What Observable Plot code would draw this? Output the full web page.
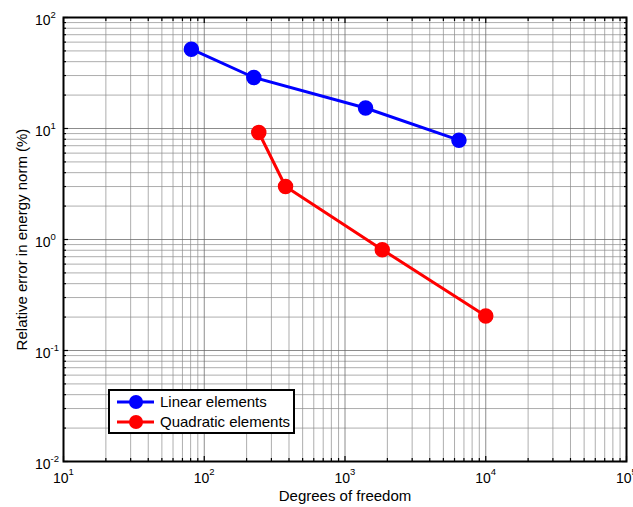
<!DOCTYPE html>
<html>
<head>
<meta charset="utf-8">
<script src="https://cdn.jsdelivr.net/npm/d3@7"></script>
<script src="https://cdn.jsdelivr.net/npm/@observablehq/plot@0.6"></script>
<style>
  html, body { margin: 0; padding: 0; background: #fff; }
  #wrap { position: relative; width: 633px; height: 507px; font-family: "Liberation Sans", Arial, sans-serif; }
  #legend { position: absolute; left: 108px; top: 389px; }
</style>
</head>
<body>
<div id="wrap"></div>
<script>
// ---- data ----
const linearDof = [81, 225, 1400, 6450];
const linearErr = [51.8, 28.8, 15.3, 7.85];
const quadDof = [244, 378, 1840, 10000];
const quadErr = [9.2, 3.0, 0.81, 0.205];

const seriesNames = ["Linear elements", "Quadratic elements"];
const seriesColors = ["#0000ff", "#ff0000"];

// tick values
const xMajor = [10, 100, 1000, 10000, 100000];
const xMajorExp = ["1", "2", "3", "4", "5"];
const yMajor = [0.01, 0.1, 1, 10, 100];
const yMajorExp = ["-2", "-1", "0", "1", "2"];
const mantissas = [2, 3, 4, 5, 6, 7, 8, 9];
const xMinor = xMajor.slice(0, -1).flatMap(d => mantissas.map(m => m * d));
const yMinor = yMajor.slice(0, -1).flatMap(d => mantissas.map(m => m * d));

const linear = linearDof.map((d, i) => ({dof: d, err: linearErr[i], s: seriesNames[0]}));
const quad = quadDof.map((d, i) => ({dof: d, err: quadErr[i], s: seriesNames[1]}));

const xMaj = xMajor.map((v, i) => ({v, e: xMajorExp[i]}));
const yMaj = yMajor.map((v, i) => ({v, e: yMajorExp[i]}));

const minorGrid = {stroke: "#8c8c8c", strokeOpacity: 0.7, strokeWidth: 1};
const majorGrid = {stroke: "#666", strokeOpacity: 0.75, strokeWidth: 1};
const font = "Liberation Sans, Arial, sans-serif";

const chart = Plot.plot({
  width: 633,
  height: 507,
  marginLeft: 63,
  marginRight: 7,
  marginTop: 17,
  marginBottom: 46,
  style: {fontFamily: font, background: "#fff", color: "#000"},
  x: {type: "log", domain: [10, 100000]},
  y: {type: "log", domain: [0.01, 100]},
  marks: [
    Plot.gridX(xMinor, minorGrid),
    Plot.gridY(yMinor, minorGrid),
    Plot.gridX(xMajor, majorGrid),
    Plot.gridY(yMajor, majorGrid),
    // inward ticks on all four sides
    Plot.axisX(xMajor, {anchor: "bottom", tickSize: -5, tickFormat: () => "", strokeWidth: 1.2}),
    Plot.axisX(xMinor, {anchor: "bottom", tickSize: -3, tickFormat: () => "", strokeWidth: 1.2}),
    Plot.axisX(xMajor, {anchor: "top", tickSize: -5, tickFormat: () => "", strokeWidth: 1.2}),
    Plot.axisX(xMinor, {anchor: "top", tickSize: -3, tickFormat: () => "", strokeWidth: 1.2}),
    Plot.axisY(yMajor, {anchor: "left", tickSize: -5, tickFormat: () => "", strokeWidth: 1.2}),
    Plot.axisY(yMinor, {anchor: "left", tickSize: -3, tickFormat: () => "", strokeWidth: 1.2}),
    Plot.axisY(yMajor, {anchor: "right", tickSize: -5, tickFormat: () => "", strokeWidth: 1.2}),
    Plot.axisY(yMinor, {anchor: "right", tickSize: -3, tickFormat: () => "", strokeWidth: 1.2}),
    Plot.frame({stroke: "#000", strokeWidth: 2}),
    // tick labels 10^n
    Plot.text(xMaj, {x: "v", frameAnchor: "bottom", text: () => "10", textAnchor: "end", lineAnchor: "bottom", dx: 5, dy: 21, fontSize: 14, fill: "#000"}),
    Plot.text(xMaj, {x: "v", frameAnchor: "bottom", text: "e", textAnchor: "start", lineAnchor: "bottom", dx: 5, dy: 13, fontSize: 9.5, fill: "#000"}),
    Plot.text(yMaj, {y: "v", frameAnchor: "left", text: () => "10", textAnchor: "end", lineAnchor: "bottom", dx: -13, dy: 7, fontSize: 14, fill: "#000"}),
    Plot.text(yMaj, {y: "v", frameAnchor: "left", text: "e", textAnchor: "start", lineAnchor: "bottom", dx: -13, dy: 0, fontSize: 9.5, fill: "#000"}),
    // axis titles
    Plot.text(["Degrees of freedom"], {frameAnchor: "bottom", text: d => d, textAnchor: "middle", lineAnchor: "bottom", dy: 39, fontSize: 15, fill: "#000"}),
    Plot.text(["Relative error in energy norm (%)"], {frameAnchor: "left", text: d => d, textAnchor: "middle", rotate: -90, lineAnchor: "bottom", dx: -37, fontSize: 15, fill: "#000"}),
    // data
    Plot.line(linear, {x: "dof", y: "err", stroke: seriesColors[0], strokeWidth: 3}),
    Plot.dot(linear, {x: "dof", y: "err", r: 7, fill: seriesColors[0], stroke: seriesColors[0]}),
    Plot.line(quad, {x: "dof", y: "err", stroke: seriesColors[1], strokeWidth: 3}),
    Plot.dot(quad, {x: "dof", y: "err", r: 7, fill: seriesColors[1], stroke: seriesColors[1]})
  ]
});

const wrap = document.getElementById("wrap");
wrap.appendChild(chart);

// legend box (inside the axes, lower left)
const ns = "http://www.w3.org/2000/svg";
const lg = document.createElementNS(ns, "svg");
lg.setAttribute("id", "legend");
lg.setAttribute("width", 188);
lg.setAttribute("height", 46);
const rect = document.createElementNS(ns, "rect");
rect.setAttribute("x", 1); rect.setAttribute("y", 1);
rect.setAttribute("width", 185); rect.setAttribute("height", 43);
rect.setAttribute("fill", "#fff"); rect.setAttribute("stroke", "#000"); rect.setAttribute("stroke-width", 2);
lg.appendChild(rect);
seriesNames.forEach((name, i) => {
  const cy = 13 + i * 20;
  const ln = document.createElementNS(ns, "line");
  ln.setAttribute("x1", 9); ln.setAttribute("x2", 46);
  ln.setAttribute("y1", cy); ln.setAttribute("y2", cy);
  ln.setAttribute("stroke", seriesColors[i]); ln.setAttribute("stroke-width", 3);
  lg.appendChild(ln);
  const c = document.createElementNS(ns, "circle");
  c.setAttribute("cx", 28); c.setAttribute("cy", cy); c.setAttribute("r", 7);
  c.setAttribute("fill", seriesColors[i]);
  lg.appendChild(c);
  const t = document.createElementNS(ns, "text");
  t.setAttribute("x", 52); t.setAttribute("y", cy + 5);
  t.setAttribute("font-size", 15);
  t.setAttribute("font-family", font);
  t.textContent = name;
  lg.appendChild(t);
});
wrap.appendChild(lg);
</script>
</body>
</html>
